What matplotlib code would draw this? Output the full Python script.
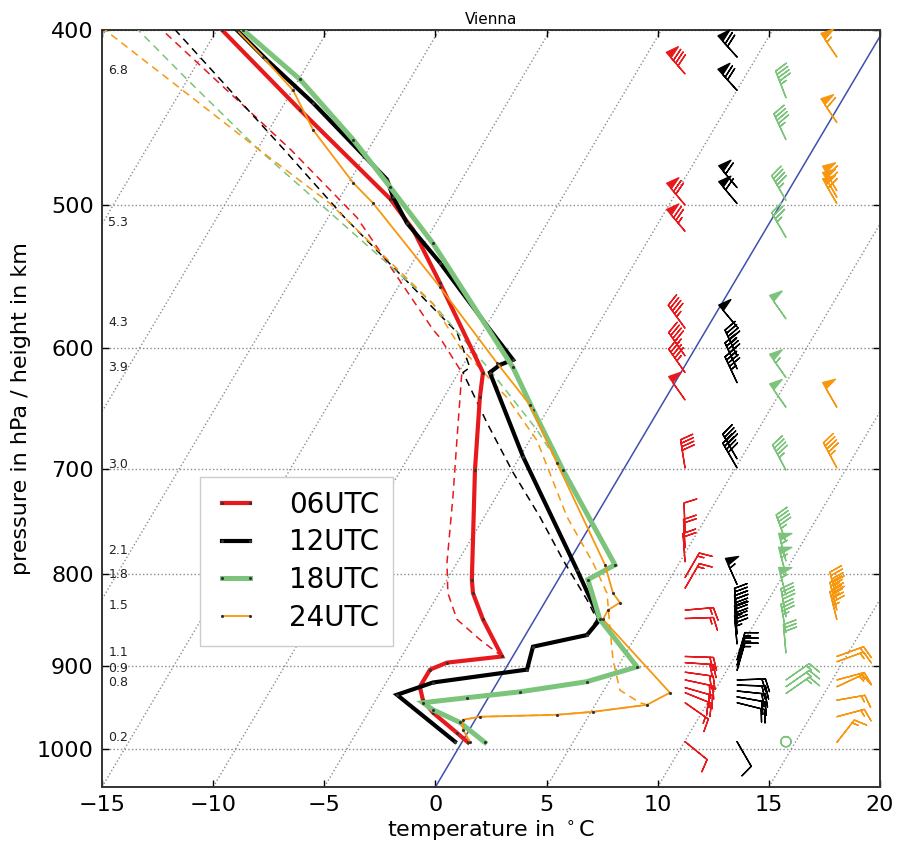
import numpy as np
import matplotlib
matplotlib.use('Agg')
import matplotlib.pyplot as plt
from matplotlib.ticker import FixedLocator, FixedFormatter, NullLocator
import matplotlib.transforms as mtransforms

# ---- diagram geometry (skew-T) ----
P_BOT = 1050.0
P_TOP = 400.0
SKEW = 20.9          # skew of isotherms: degC per unit ln(p)
ISO_T = list(range(-50, 25, 5))
P_LEVELS = [400, 500, 600, 700, 800, 900, 1000]

# ---- temperature profiles (x position on the skewed temperature axis, degC) ----
p_06 = [992, 980, 955, 940, 924, 904, 896, 889, 848, 820, 806, 701, 639, 619, 552, 516, 496, 443, 400]
t_06 = [1.47, 0.97, -0.11, -0.56, -0.7, -0.24, 0.52, 3.0, 2.14, 1.69, 1.64, 1.78, 2.0, 2.14, 0.2, -1.0, -2.04, -6.08, -9.6]
pd_06 = [992, 980, 955, 940, 924, 904, 896, 889, 870, 848, 820, 789, 725, 666, 619, 592, 586, 508, 466, 400]
td_06 = [1.47, 0.97, -0.11, -0.56, -0.7, -0.24, 0.52, 3.0, 2.0, 0.97, 0.56, 0.52, 0.79, 1.0, 1.19, 0.2, -0.11, -3.53, -6.5, -12.29]

p_12 = [991, 933.5, 919, 904, 878, 865, 848, 796, 689, 619, 613, 609, 586, 538, 511.6, 495, 484, 439, 415.6, 400]
t_12 = [0.88, -1.73, -0.11, 4.12, 4.39, 6.82, 7.4, 6.37, 3.94, 2.45, 2.9, 3.49, 2.45, 0.2, -1.28, -1.9, -2.18, -5.5, -7.58, -8.93]
pd_12 = [991, 933.5, 919, 904, 878, 865, 848, 827, 786, 744, 703, 660, 619, 615, 588, 570, 507, 466, 400]
td_12 = [0.88, -1.73, -0.11, 4.12, 4.39, 6.82, 7.27, 6.82, 5.74, 4.7, 3.49, 2.32, 1.24, 1.55, 0.97, -0.11, -4.15, -6.8, -11.7]

p_18 = [992, 967, 951.5, 943, 937, 930, 918, 900.8, 848, 806, 791, 701, 649, 615, 525, 488.6, 460, 426, 400]
t_18 = [2.23, 1.1, -0.11, -0.56, 1.42, 3.8, 6.82, 9.07, 7.4, 6.86, 8.08, 5.74, 4.39, 3.49, -0.11, -2.04, -3.7, -6.09, -8.65]
pd_18 = [992, 967, 951.5, 943, 937, 930, 918, 900.8, 848, 806, 791, 701, 666, 617, 567, 465, 426, 400]
td_18 = [2.23, 1.1, -0.11, -0.56, 1.42, 3.8, 6.82, 9.07, 7.4, 6.86, 8.08, 5.74, 4.57, 2.45, -0.11, -8.02, -11.17, -13.37]

p_24 = [991, 976, 963.7, 960, 957.6, 954, 945.5, 931, 848, 838, 830, 820, 791, 694.6, 645, 611.5, 555, 498.7, 486, 454.4, 432, 414, 400]
t_24 = [1.55, 1.24, 1.24, 2.0, 5.47, 7.09, 9.52, 10.55, 7.54, 7.76, 8.3, 7.99, 7.63, 5.47, 4.25, 2.77, 0.2, -2.81, -3.7, -5.5, -6.4, -7.76, -8.93]
pd_24 = [991, 976, 963.7, 960, 957.6, 954, 945.5, 943, 928, 893, 856, 820, 789, 744, 675, 639, 599, 567, 499, 465, 400]
td_24 = [1.55, 1.24, 1.24, 2.0, 5.47, 7.09, 9.52, 9.2, 8.3, 7.99, 7.85, 7.72, 7.09, 5.92, 4.57, 3.22, 1.1, -0.11, -4.74, -8.02, -14.86]

# ---- wind barbs: pressure, direction (deg, from), speed ----
pb_06 = [423, 500, 517, 585, 606, 619, 641, 699, 758, 774, 788, 804, 815, 838, 847, 889, 896, 907, 916, 925, 931, 943, 991]
dir_06 = [319, 320, 320, 324, 325, 325, 325, 351, 358, 357, 356, 30, 30, 85, 88, 92, 94, 98, 102, 106, 112, 125, 129]
spd_06 = [80, 70, 75, 45, 45, 45, 50, 40, 10, 20, 20, 15, 15, 15, 15, 20, 20, 20, 20, 20, 20, 15, 10]

pb_12 = [414, 432, 489, 499, 584, 606, 616, 627, 691, 699, 811, 845, 853, 864, 875, 893, 899, 905, 916, 922, 929, 936, 943, 991]
dir_12 = [318, 318, 320, 320, 320, 335, 335, 335, 330, 330, 336, 355, 355, 355, 355, 16, 16, 16, 88, 92, 96, 100, 104, 150]
spd_12 = [70, 70, 60, 60, 50, 45, 45, 45, 40, 40, 55, 40, 40, 35, 35, 15, 15, 15, 20, 20, 20, 20, 20, 10]

pb_18 = [436, 460, 497, 521, 578, 623, 647, 701, 768, 787, 801, 822, 845, 862, 885, 916, 924, 932, 991]
dir_18 = [339, 335, 330, 330, 325, 325, 325, 332, 340, 345, 345, 345, 350, 350, 355, 55, 55, 55, 0]
spd_18 = [45, 45, 45, 35, 50, 55, 50, 45, 45, 55, 55, 55, 40, 35, 30, 15, 15, 15, 0]

pb_24 = [414, 450, 491, 495, 499, 647, 699, 827, 838, 848, 889, 895, 916, 924, 940, 960, 992]
dir_24 = [326, 326, 330, 330, 330, 330, 332, 346, 346, 346, 70, 70, 75, 65, 80, 75, 38]
spd_24 = [55, 60, 60, 60, 60, 50, 45, 45, 45, 45, 15, 15, 15, 15, 15, 15, 15]

# barb column positions on the temperature axis
barb_x = {'06UTC': 11.23, '12UTC': 13.57, '18UTC': 15.77, '24UTC': 18.06}

# ---- height labels (km) at pressure ----
h_labels = ['6.8', '5.3', '4.3', '3.9', '3.0', '2.1', '1.8', '1.5', '1.1', '0.9', '0.8', '0.2']
h_press = [421, 511, 581, 615, 696, 777, 801, 833, 884, 903, 919, 986]

series = [
    ('06UTC', '#e8191c', 3.0, p_06, t_06, pd_06, td_06, pb_06, dir_06, spd_06),
    ('12UTC', '#000000', 3.0, p_12, t_12, pd_12, td_12, pb_12, dir_12, spd_12),
    ('18UTC', '#7cc47c', 3.6, p_18, t_18, pd_18, td_18, pb_18, dir_18, spd_18),
    ('24UTC', '#f7970f', 1.3, p_24, t_24, pd_24, td_24, pb_24, dir_24, spd_24),
]

fig = plt.figure(figsize=(8.97, 8.48), dpi=100)
ax = fig.add_axes([0.1137, 0.0719, 0.8673, 0.8927])
ax.set_yscale('log')
ax.set_xlim(-15, 20)
ax.set_ylim(P_BOT, P_TOP)

# isobars
for p in P_LEVELS:
    ax.axhline(p, color='0.55', ls=':', lw=1.0, zorder=1)
# skewed isotherms
span = SKEW * np.log(P_BOT / P_TOP)
for T0 in ISO_T:
    if T0 == 0:
        continue
    ax.plot([T0, T0 + span], [P_BOT, P_TOP], color='0.55', ls=':', lw=1.0, zorder=1)
ax.plot([0, span], [P_BOT, P_TOP], color='#3f4fae', lw=1.1, zorder=2)

# profiles
for name, c, lw, p, t, pd, td, pb, dr, sp in series:
    ax.plot(td, pd, color=c, lw=1.1, ls=(0, (5, 3.5)), zorder=3)
    ax.plot(t, p, color=c, lw=lw, marker='.', ms=2.5, mfc='0.2', mec='0.2',
            label=name, zorder=4, solid_joinstyle='miter')

# barbs
for name, c, lw, p, t, pd, td, pb, dr, sp in series:
    d = np.deg2rad(np.array(dr, dtype=float))
    s = np.array(sp, dtype=float)
    u = -s * np.sin(d)
    v = -s * np.cos(d)
    xb = np.full(len(pb), barb_x[name])
    ax.barbs(xb, pb, u, v, color=c, length=6.4, linewidth=1.0, zorder=5,
             sizes=dict(emptybarb=0.18, height=0.45), clip_on=False)

# height labels
trans = mtransforms.blended_transform_factory(ax.transAxes, ax.transData)
for lab, p in zip(h_labels, h_press):
    ax.text(0.008, p, lab, transform=trans, fontsize=9, ha='left', va='center', color='#222222')

# axes formatting
ax.yaxis.set_major_locator(FixedLocator(P_LEVELS))
ax.yaxis.set_major_formatter(FixedFormatter([str(p) for p in P_LEVELS]))
ax.yaxis.set_minor_locator(NullLocator())
ax.set_xticks([-15, -10, -5, 0, 5, 10, 15, 20])
ax.tick_params(direction='in', length=5, width=1, labelsize=16, top=True, right=True, pad=6)
for sp_ in ax.spines.values():
    sp_.set_color('#333333')
    sp_.set_linewidth(1.4)

ax.set_xlabel('temperature in $^\\circ$C', fontsize=16, labelpad=2)
ax.set_ylabel('pressure in hPa / height in km', fontsize=16, labelpad=4)
ax.set_title('Vienna', fontsize=11, pad=4)

leg = ax.legend(loc='upper left', bbox_to_anchor=(0.126, 0.41), borderaxespad=0,
                fontsize=20, numpoints=2, handlelength=1.6, handletextpad=1.1,
                labelspacing=0.35, fancybox=False, framealpha=1, borderpad=0.5)
leg.get_frame().set_edgecolor('#cccccc')
leg.get_frame().set_linewidth(1.0)

fig.savefig('out.png', dpi=100)
